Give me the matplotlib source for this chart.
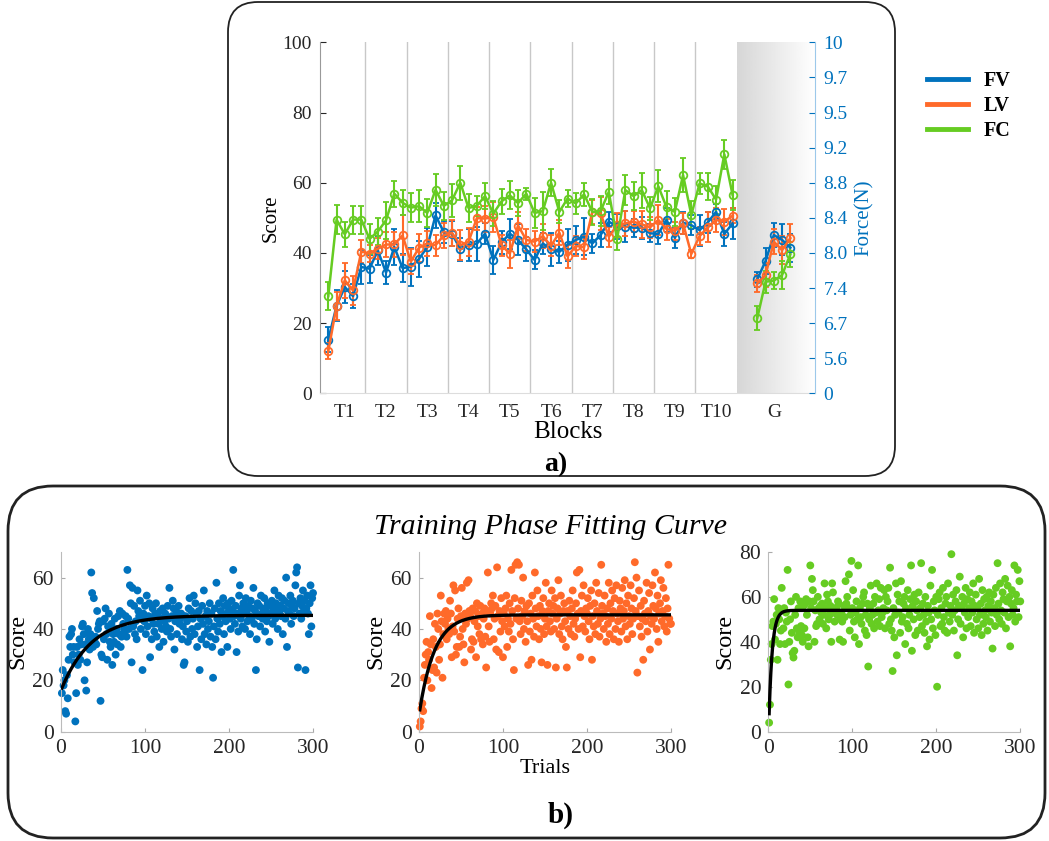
import numpy as np
import matplotlib
matplotlib.use('Agg')
import matplotlib.pyplot as plt
from matplotlib.patches import FancyBboxPatch
from matplotlib.lines import Line2D

# ---- panel a) block means (5 points per T block, then G) ----
block_labels = ['T1', 'T2', 'T3', 'T4', 'T5', 'T6', 'T7', 'T8', 'T9', 'T10', 'G']
force_labels = ['0', '5.6', '6.7', '7.4', '8.0', '8.4', '8.8', '9.2', '9.5', '9.7', '10']

fv_train = [15.3, 24.9, 30.3, 27.7, 36.0, 35.5, 40.7, 34.4, 41.7, 35.7,
            36.0, 38.3, 41.7, 50.7, 45.9, 45.5, 41.0, 42.3, 42.6, 45.5,
            38.0, 43.0, 45.5, 43.7, 41.0, 38.0, 42.7, 41.0, 40.3, 42.3,
            43.7, 44.6, 42.7, 45.1, 48.9, 47.6, 47.5, 47.2, 47.2, 45.6,
            45.4, 49.4, 44.3, 48.6, 47.9, 46.5, 48.7, 51.7, 45.4, 48.4]
fv_err = [3.5, 4.4, 4.5, 3.5, 4.8, 4.0, 4.1, 3.2, 5.0, 4.1,
          5.4, 5.2, 5.5, 3.6, 3.2, 3.5, 3.3, 4.6, 4.9, 3.1,
          4.0, 3.2, 4.3, 4.4, 3.4, 2.7, 3.0, 4.8, 3.1, 4.5,
          4.0, 5.3, 2.6, 3.5, 2.9, 3.5, 4.4, 2.6, 3.1, 2.6,
          3.0, 3.3, 2.8, 3.1, 2.8, 4.4, 3.0, 2.1, 3.5, 4.5]
lv_train = [12.0, 24.9, 32.2, 29.3, 40.4, 39.8, 41.2, 42.4, 42.4, 45.0,
            37.5, 41.5, 42.7, 42.2, 45.0, 45.7, 42.2, 43.2, 49.9, 49.8,
            50.2, 42.2, 39.8, 47.8, 43.7, 43.2, 44.8, 42.0, 45.8, 39.0,
            42.0, 41.6, 51.7, 51.3, 44.6, 47.9, 48.4, 48.9, 48.1, 47.3,
            49.4, 46.8, 46.3, 48.4, 39.7, 44.8, 47.3, 49.4, 48.9, 50.6]
lv_err = [2.2, 4.0, 5.0, 4.0, 3.3, 2.5, 3.0, 3.5, 3.7, 5.7,
          3.5, 4.0, 3.5, 3.0, 3.5, 3.8, 4.3, 4.0, 3.3, 3.7,
          4.3, 3.0, 4.0, 3.9, 3.1, 3.0, 3.5, 3.0, 3.5, 3.3,
          2.8, 3.3, 3.5, 4.7, 2.8, 3.5, 3.6, 3.0, 3.8, 3.0,
          4.3, 3.0, 2.5, 3.0, 1.2, 2.6, 4.3, 3.3, 3.7, 2.2]
fc_train = [27.7, 49.5, 45.3, 49.5, 49.5, 44.0, 46.1, 49.3, 56.9, 54.3,
            52.9, 53.3, 51.4, 58.0, 53.4, 55.0, 60.0, 52.8, 53.4, 56.2,
            51.2, 54.7, 56.4, 54.2, 56.9, 51.4, 51.9, 60.0, 51.7, 55.5,
            54.1, 56.7, 51.7, 51.9, 57.4, 43.9, 57.9, 56.2, 57.9, 52.7,
            59.0, 53.0, 51.7, 62.2, 50.8, 59.8, 58.9, 55.2, 68.1, 56.5]
fc_err = [4.0, 4.2, 3.5, 4.0, 4.0, 4.3, 3.8, 5.2, 3.7, 3.6,
          4.1, 4.5, 4.0, 4.5, 4.0, 4.7, 4.9, 3.9, 2.8, 3.7,
          3.6, 3.5, 4.0, 3.6, 1.7, 4.2, 5.5, 3.8, 3.3, 2.5,
          2.9, 3.3, 3.7, 4.3, 3.4, 3.2, 4.3, 4.1, 5.0, 3.3,
          4.5, 4.5, 4.0, 4.9, 4.0, 2.9, 3.8, 4.0, 4.1, 4.3]

fv_g = [32.5, 37.7, 45.1, 43.7, 41.5]
fv_g_err = [2.2, 3.6, 3.3, 4.4, 4.0]
lv_g = [31.3, 33.7, 43.2, 40.8, 44.2]
lv_g_err = [2.5, 3.5, 3.5, 4.0, 4.0]
fc_g = [21.5, 31.8, 32.1, 33.7, 39.6]
fc_g_err = [3.5, 3.1, 2.4, 4.1, 3.6]

# ---- panel b) per-trial scores ----
fv_trials = [15, 24, 18, 20, 8, 7, 22, 13, 28, 37, 33, 38, 40, 30, 33, 27, 4, 15, 33, 26,
             30, 36, 28, 34, 41, 42, 38, 20, 34, 16, 27, 40, 36, 32, 38, 62, 54, 33, 52, 35,
             37, 34, 47, 40, 42, 43, 12, 30, 29, 43, 36, 44, 48, 38, 28, 41, 46, 35, 33, 42,
             26, 38, 35, 44, 30, 40, 34, 45, 38, 47, 33, 37, 46, 42, 40, 39, 45, 37, 63, 44,
             40, 57, 50, 27, 56, 41, 49, 38, 43, 36, 55, 47, 45, 51, 40, 44, 24, 46, 43, 49,
             38, 53, 41, 45, 50, 29, 44, 36, 48, 42, 39, 46, 50, 37, 45, 42, 33, 47, 44, 40,
             48, 35, 43, 46, 41, 39, 49, 44, 56, 40, 37, 45, 51, 48, 32, 43, 47, 38, 45, 49,
             42, 44, 46, 36, 41, 26, 27, 45, 39, 43, 35, 48, 52, 37, 47, 40, 44, 53, 38, 50,
             46, 33, 41, 47, 24, 44, 36, 49, 42, 55, 38, 45, 34, 47, 40, 43, 50, 37, 46, 33,
             21, 41, 48, 36, 58, 44, 39, 50, 42, 47, 31, 45, 52, 38, 49, 43, 46, 33, 50, 48,
             44, 40, 51, 47, 63, 45, 42, 49, 31, 46, 39, 53, 57, 44, 48, 41, 50, 46, 40, 52,
             47, 43, 49, 45, 38, 51, 44, 48, 56, 42, 47, 24, 36, 50, 45, 49, 41, 53, 46, 44,
             48, 52, 39, 47, 43, 50, 45, 35, 49, 46, 51, 42, 48, 55, 44, 50, 47, 40, 53, 46,
             49, 45, 52, 38, 48, 51, 44, 60, 33, 47, 50, 46, 53, 42, 49, 51, 45, 48, 57, 62,
             64, 25, 50, 46, 52, 44, 49, 55, 47, 51, 24, 48, 53, 46, 38, 50, 57, 41, 52, 54]
lv_trials = [2, 4, 9, 11, 8, 21, 26, 30, 35, 20, 31, 28, 45, 34, 17, 24, 36, 25, 42, 33,
             23, 46, 40, 28, 34, 53, 43, 21, 38, 46, 42, 47, 36, 44, 40, 38, 51, 46, 29, 41,
             57, 39, 55, 30, 33, 44, 48, 33, 37, 45, 56, 40, 34, 27, 46, 42, 58, 44, 59, 47,
             45, 32, 36, 48, 35, 43, 47, 29, 50, 41, 45, 38, 49, 36, 46, 34, 44, 48, 37, 25,
             47, 62, 41, 35, 46, 50, 48, 53, 36, 44, 49, 32, 64, 45, 31, 47, 39, 52, 43, 29,
             46, 41, 48, 53, 33, 44, 39, 50, 42, 63, 47, 36, 24, 52, 65, 44, 66, 48, 65, 43,
             38, 51, 45, 60, 40, 47, 35, 49, 43, 26, 50, 39, 46, 28, 53, 44, 37, 62, 48, 41,
             55, 45, 36, 49, 40, 27, 47, 52, 38, 44, 58, 41, 26, 47, 50, 43, 39, 55, 46, 49,
             40, 52, 25, 44, 48, 59, 38, 46, 53, 41, 36, 47, 50, 43, 33, 25, 47, 40, 51, 45,
             38, 48, 55, 42, 37, 44, 50, 62, 46, 40, 63, 29, 47, 53, 41, 57, 45, 39, 48, 46,
             52, 43, 36, 49, 55, 28, 45, 41, 50, 38, 58, 47, 42, 54, 37, 44, 65, 49, 46, 40,
             53, 45, 35, 48, 42, 58, 38, 50, 44, 55, 47, 36, 52, 40, 57, 46, 43, 35, 51, 48,
             39, 56, 44, 47, 59, 41, 50, 36, 53, 45, 42, 57, 48, 38, 44, 52, 66, 47, 60, 23,
             45, 55, 41, 49, 37, 44, 28, 51, 46, 43, 58, 39, 47, 54, 32, 45, 42, 57, 49, 44,
             62, 48, 40, 53, 35, 46, 50, 59, 43, 47, 56, 41, 45, 52, 39, 48, 65, 44, 42, 42]
fc_trials = [4, 12, 32, 39, 47, 49, 59, 41, 48, 52, 32, 55, 50, 39, 45, 64, 54, 46, 55, 39,
             53, 49, 72, 21, 40, 50, 58, 44, 35, 33, 36, 52, 60, 46, 42, 55, 44, 58, 47, 43,
             40, 56, 46, 57, 59, 52, 42, 38, 58, 74, 55, 68, 63, 58, 40, 54, 47, 48, 60, 55,
             50, 56, 53, 57, 48, 52, 66, 55, 46, 61, 58, 50, 52, 56, 40, 66, 62, 53, 49, 55,
             55, 52, 58, 57, 41, 50, 53, 49, 40, 56, 51, 67, 57, 60, 55, 70, 45, 52, 76, 55,
             63, 49, 42, 53, 58, 50, 74, 39, 55, 51, 48, 57, 60, 62, 45, 52, 43, 57, 29, 50,
             55, 65, 48, 52, 57, 46, 60, 53, 66, 49, 54, 59, 47, 64, 51, 53, 55, 63, 46, 60,
             54, 58, 64, 48, 73, 50, 45, 27, 55, 42, 52, 66, 34, 61, 53, 58, 44, 67, 49, 51,
             57, 60, 39, 55, 48, 63, 46, 52, 59, 74, 36, 56, 50, 61, 43, 58, 54, 45, 62, 51,
             55, 75, 47, 57, 52, 44, 60, 49, 38, 56, 53, 41, 65, 50, 72, 46, 58, 54, 43, 60,
             20, 52, 59, 62, 47, 55, 48, 64, 51, 45, 57, 60, 44, 66, 53, 49, 56, 79, 52, 61,
             45, 54, 58, 63, 34, 50, 56, 69, 48, 55, 60, 42, 57, 53, 64, 46, 59, 51, 55, 62,
             47, 58, 53, 66, 44, 56, 61, 50, 55, 46, 68, 52, 57, 43, 63, 48, 59, 54, 51, 60,
             45, 56, 62, 49, 58, 53, 37, 61, 55, 47, 64, 52, 75, 57, 50, 66, 54, 48, 62, 59,
             53, 68, 46, 58, 65, 51, 60, 38, 57, 63, 52, 55, 74, 49, 61, 58, 72, 51, 67, 58]

# exponential fit: plateau, value at first trial, time constant (trials)
fv_fit = (45.3, 17.0, 36.0)
lv_fit = (45.5, 8.5, 18.0)
fc_fit = (54.0, 8.0, 4.0)

BLUE = '#0072BD'
ORANGE = '#FF6A2A'
GREEN = '#66CC22'

plt.rcParams['font.family'] = ['Liberation Serif', 'DejaVu Serif']

fig = plt.figure(figsize=(10.49, 8.41), dpi=100)

fig.add_artist(FancyBboxPatch((2.28, 3.65), 6.67, 4.74, boxstyle='round,pad=0,rounding_size=0.3',
                              transform=fig.dpi_scale_trans, fill=False, lw=1.3, ec='#222222'))
fig.add_artist(FancyBboxPatch((0.08, 0.03), 10.37, 3.52, boxstyle='round,pad=0,rounding_size=0.45',
                              transform=fig.dpi_scale_trans, fill=False, lw=2.0, ec='#222222'))

# ---------------- a) ----------------
ax = fig.add_axes([0.3051, 0.5323, 0.4719, 0.4174])
train_x = np.arange(1, len(fv_train) + 1)
g_x = np.arange(53, 53 + len(fv_g))
n_blocks = 10
bounds = np.arange(1, n_blocks) * 5 + 0.5
for b in bounds:
    ax.axvline(b, color='#c8c8c8', lw=1.0, zorder=0)
grad = np.linspace(0.84, 1.0, 256).reshape(1, -1)
ax.imshow(grad, extent=[50.5, 60, 0, 100], aspect='auto', cmap='gray', vmin=0, vmax=1, zorder=0)

kw = dict(marker='o', ms=5.5, mfc='none', mew=1.3, lw=1.8, capsize=2.3, elinewidth=1.5, capthick=1.5)
for xs, series, c in [(train_x, (fv_train, fv_err), BLUE), (g_x, (fv_g, fv_g_err), BLUE),
                      (train_x, (lv_train, lv_err), ORANGE), (g_x, (lv_g, lv_g_err), ORANGE),
                      (train_x, (fc_train, fc_err), GREEN), (g_x, (fc_g, fc_g_err), GREEN)]:
    ax.errorbar(xs, series[0], yerr=series[1], color=c, **kw)

ax.set_xlim(0, 60)
ax.set_ylim(0, 100)
ax.set_xticks(list(np.arange(n_blocks) * 5 + 3) + [g_x.mean()])
ax.set_xticklabels(block_labels)
ax.set_yticks(np.arange(0, 101, 20))
ax.tick_params(axis='x', length=0, labelsize=14, colors='#262626', pad=8)
ax.tick_params(axis='y', direction='in', length=4, labelsize=14, colors='#262626', pad=6)
for s in ['top', 'right']:
    ax.spines[s].set_visible(False)
ax.spines['left'].set_color('#999999')
ax.spines['bottom'].set_color('#dddddd')
ax.set_xlabel('Blocks', fontsize=18, labelpad=0)
ax.set_ylabel('Score', fontsize=15, labelpad=1)

ax2 = ax.twinx()
ax2.set_ylim(0, 100)
ax2.set_yticks(np.arange(0, 101, 10))
ax2.set_yticklabels(force_labels)
ax2.tick_params(axis='y', direction='in', length=4, labelsize=14, colors=BLUE, pad=6)
for s in ['top', 'left', 'bottom']:
    ax2.spines[s].set_visible(False)
ax2.spines['right'].set_color('#9cc8ea')
ax2.set_ylabel('Force(N)', color=BLUE, fontsize=15, labelpad=5)

fig.legend(handles=[Line2D([], [], color=c, lw=3.5) for c in (BLUE, ORANGE, GREEN)],
           labels=['FV', 'LV', 'FC'], loc='upper left', bbox_to_anchor=(0.8745, 0.9275),
           frameon=False, prop=dict(weight='bold', size=14.5), handlelength=2.0,
           handletextpad=0.8, labelspacing=0.25, borderpad=0)

fig.text(0.530, 0.4475, 'a)', fontsize=20, fontweight='bold', ha='center', va='center')

# ---------------- b) ----------------
fig.text(0.525, 1 - 527 / 841, 'Training Phase Fitting Curve', style='italic',
         fontsize=21.5, ha='center', va='center')
fig.text(0.534, 1 - 815 / 841, 'b)', fontsize=21, fontweight='bold', ha='center', va='center')

trials = np.arange(1, 301)
fit_x = np.linspace(1, 300, 600)
panels = [(0.0582, fv_trials, fv_fit, BLUE, 70), (0.3994, lv_trials, lv_fit, ORANGE, 70),
          (0.7324, fc_trials, fc_fit, GREEN, 80)]
for i, (left, scores, fit, c, top) in enumerate(panels):
    bx = fig.add_axes([left, 0.13, 0.2402, 0.2137])
    bx.scatter(trials, scores, s=32, color=c, edgecolors='none', clip_on=False, zorder=2)
    plateau, y0, tau = fit
    bx.plot(fit_x, plateau - (plateau - y0) * np.exp(-(fit_x - 1) / tau), color='black', lw=2.4, zorder=3)
    bx.set_xlim(0, 300)
    bx.set_ylim(0, top)
    bx.set_xticks([0, 100, 200, 300])
    bx.set_yticks(np.arange(0, top + 1, 20) if top == 80 else [0, 20, 40, 60])
    bx.tick_params(direction='in', length=3, labelsize=15.5, labelcolor='#262626', color='#aaaaaa', pad=5)
    for s in ['top', 'right']:
        bx.spines[s].set_visible(False)
    for s in ['left', 'bottom']:
        bx.spines[s].set_color('#bbbbbb')
    bx.set_ylabel('Score', fontsize=17.5, labelpad=3)
    if i == 1:
        bx.set_xlabel('Trials', fontsize=16, labelpad=1)

fig.savefig('out.png', dpi=100)
